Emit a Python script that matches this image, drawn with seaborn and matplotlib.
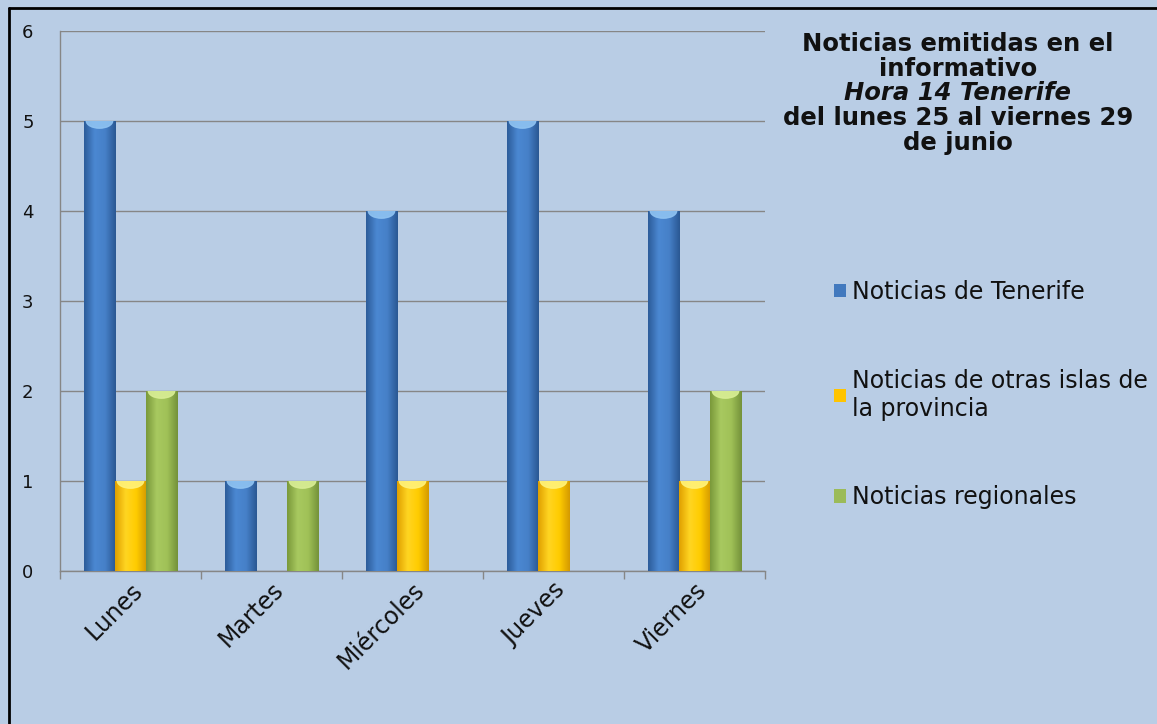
"""
Noticias emitidas en el informativo Hora 14 Tenerife (25-29 junio).
Barras agrupadas por día con sombreado tipo Excel.
"""
import numpy as np
import pandas as pd
import matplotlib
matplotlib.use('Agg')
import matplotlib.pyplot as plt
import seaborn as sns
from matplotlib.colors import LinearSegmentedColormap
from matplotlib.patches import Patch, Ellipse
from matplotlib.lines import Line2D

# Datos
DIAS = ["Lunes", "Martes", "Miércoles", "Jueves", "Viernes"]
TENERIFE = [5, 1, 4, 5, 4]
OTRAS_ISLAS = [1, 0, 1, 1, 1]
REGIONALES = [2, 1, 0, 0, 2]
SERIES = ["Noticias de Tenerife",
          "Noticias de otras islas de\nla provincia",
          "Noticias regionales"]
Y_TICKS = [0, 1, 2, 3, 4, 5, 6]

BG = '#B9CDE5'
GRID = '#868686'
COLORES = ['#4279BE', '#FFC400', '#9BBB59']
# perfiles de degradado (izquierda -> derecha)
DEGRADADOS = [
    ['#2C5C9A', '#4B88D2', '#4680C8', '#2A5893'],
    ['#E0A000', '#FFD522', '#FFCC00', '#D49A00'],
    ['#7A993A', '#A8C960', '#A0C157', '#74923A'],
]
TAPAS = ['#8FC3F2', '#FFF27A', '#D9EE95']

sns.set_theme(style='white')
plt.rcParams['font.family'] = ['DejaVu Sans']
plt.rcParams['text.color'] = '#111111'

df = pd.DataFrame({
    'dia': DIAS * 3,
    'serie': [SERIES[0]] * 5 + [SERIES[1]] * 5 + [SERIES[2]] * 5,
    'valor': TENERIFE + OTRAS_ISLAS + REGIONALES,
})

W, H = 1157, 724
fig = plt.figure(figsize=(W / 100, H / 100), dpi=100, facecolor=BG)
ax = fig.add_axes([60 / W, 1 - 571 / H, 705 / W, 540 / H])
ax.set_facecolor(BG)

sns.barplot(data=df, x='dia', y='valor', hue='serie', order=DIAS,
            hue_order=SERIES, palette=COLORES, saturation=1, width=0.66,
            gap=0, linewidth=0, errorbar=None, legend=False, ax=ax, zorder=3)

# sombreado de cada barra
for i, cont in enumerate(ax.containers):
    cmap = LinearSegmentedColormap.from_list(f'g{i}', DEGRADADOS[i])
    grad = np.linspace(0, 1, 64).reshape(1, -1)
    for bar in cont:
        h = bar.get_height()
        if h <= 0:
            continue
        x0, w = bar.get_x(), bar.get_width()
        im = ax.imshow(grad, extent=[x0, x0 + w, 0, h], cmap=cmap,
                       aspect='auto', zorder=3.5, interpolation='bicubic')
        im.set_clip_path(bar)
        cap = Ellipse((x0 + w / 2, h), w * 0.85, 0.16, color=TAPAS[i],
                      zorder=3.6, alpha=0.9)
        ax.add_patch(cap)
        cap.set_clip_path(bar)

ax.set_xlim(-0.5, 4.5)
ax.set_ylim(0, 6)
ax.set_yticks(Y_TICKS)
ax.set_yticklabels([str(t) for t in Y_TICKS], fontsize=13, color='#111111')
ax.yaxis.grid(True, color=GRID, linewidth=1)
ax.set_axisbelow(True)
ax.tick_params(axis='y', length=8, color=GRID, width=1, pad=11)

ax.set_xticks(range(len(DIAS)))
ax.set_xticklabels(DIAS, rotation=45, ha='right', rotation_mode='anchor',
                   fontsize=17, color='#111111')
ax.set_xticks(np.arange(-0.5, len(DIAS)), minor=True)
ax.tick_params(axis='x', which='major', length=0, pad=5)
ax.tick_params(axis='x', which='minor', length=6, color=GRID, width=1,
               bottom=True)
ax.set_xlabel('')
ax.set_ylabel('')
for s in ['top', 'right']:
    ax.spines[s].set_visible(False)
for s in ['left', 'bottom']:
    ax.spines[s].set_color(GRID)
    ax.spines[s].set_linewidth(1)

# título a la derecha
titulo = [
    ("Noticias emitidas en el", 'normal'),
    ("informativo", 'normal'),
    ("Hora 14 Tenerife", 'italic'),
    ("del lunes 25 al viernes 29", 'normal'),
    ("de junio", 'normal'),
]
for k, (linea, estilo) in enumerate(titulo):
    fig.text(958 / W, 1 - (44 + k * 24.7) / H, linea, ha='center',
             va='center', fontsize=17.5, fontweight='bold', style=estilo)

# leyenda
handles = [Patch(facecolor=c, edgecolor='none') for c in COLORES]
fig.legend(handles, SERIES, loc='upper left',
           bbox_to_anchor=(822 / W, 1 - 268 / H), frameon=False,
           fontsize=17, handlelength=0.5, handleheight=0.5,
           handletextpad=0.25, labelspacing=2.75, borderpad=0)

# marco
fig.add_artist(Line2D([9 / W, 9 / W], [0, 1 - 8 / H], color='black',
                      linewidth=2, transform=fig.transFigure))
fig.add_artist(Line2D([9 / W, 1], [1 - 8 / H, 1 - 8 / H], color='black',
                      linewidth=2, transform=fig.transFigure))

fig.savefig('out.png', dpi=100, facecolor=BG)
